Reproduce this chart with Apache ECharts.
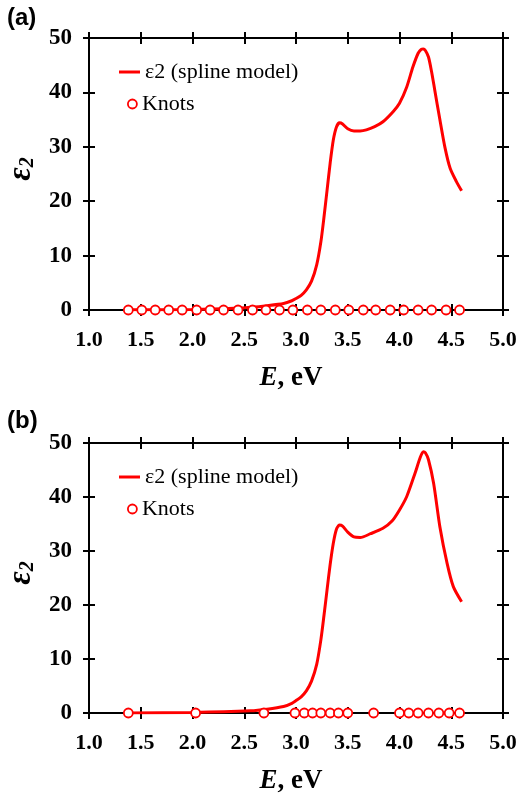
<!DOCTYPE html>
<html><head><meta charset="utf-8">
<script src="https://cdn.jsdelivr.net/npm/echarts@6/dist/echarts.min.js"></script>
<style>html,body{margin:0;padding:0;background:#fff}#c{width:518px;height:794px}</style>
</head><body><div id="c"></div>
<script>
// ---- data ----
const xTickLabels = ['1.0','1.5','2.0','2.5','3.0','3.5','4.0','4.5','5.0'];
const yTickLabels = ['0','10','20','30','40','50'];
const legendNames = ['ε2 (spline model)', 'Knots'];

const splineA_E = [1.38, 2.0, 2.4, 2.56, 2.72, 2.88, 2.96, 3.00, 3.05, 3.10, 3.15, 3.20, 3.24, 3.27, 3.30, 3.33, 3.36, 3.39, 3.42, 3.45, 3.50, 3.56, 3.62, 3.68, 3.76, 3.84, 3.94, 4.00, 4.07, 4.13, 4.18, 4.21, 4.23, 4.25, 4.28, 4.31, 4.34, 4.39, 4.44, 4.49, 4.55, 4.60];
const splineA_V = [0.05, 0.1, 0.3, 0.5, 0.8, 1.2, 1.7, 2.1, 2.7, 3.7, 5.3, 8.3, 12.5, 17.0, 22.0, 27.0, 31.2, 33.6, 34.4, 34.2, 33.3, 32.9, 32.9, 33.1, 33.7, 34.6, 36.5, 38.0, 41.0, 44.7, 47.2, 47.9, 48.0, 47.7, 46.5, 43.8, 40.5, 35.0, 29.8, 26.0, 23.6, 21.9];
const knotsA_E = [1.38, 1.51, 1.64, 1.77, 1.90, 2.04, 2.17, 2.30, 2.44, 2.58, 2.71, 2.84, 2.97, 3.11, 3.24, 3.38, 3.51, 3.65, 3.77, 3.91, 4.04, 4.18, 4.31, 4.45, 4.58];
const knotsA_V = [0, 0, 0, 0, 0, 0, 0, 0, 0, 0, 0, 0, 0, 0, 0, 0, 0, 0, 0, 0, 0, 0, 0, 0, 0];

const splineB_E = [1.38, 2.0, 2.56, 2.72, 2.88, 2.96, 3.00, 3.05, 3.10, 3.15, 3.20, 3.24, 3.27, 3.30, 3.33, 3.36, 3.39, 3.42, 3.45, 3.50, 3.56, 3.62, 3.72, 3.84, 3.93, 4.00, 4.07, 4.15, 4.20, 4.23, 4.25, 4.28, 4.33, 4.39, 4.46, 4.52, 4.60];
const splineB_V = [0.02, 0.1, 0.4, 0.7, 1.2, 1.8, 2.3, 3.0, 4.1, 5.9, 9.0, 13.5, 18.0, 22.8, 27.5, 31.4, 34.0, 34.8, 34.6, 33.5, 32.6, 32.5, 33.2, 34.2, 35.6, 37.6, 40.1, 44.4, 47.3, 48.4, 48.2, 46.9, 42.5, 34.5, 27.7, 23.4, 20.6];
const knotsB_E = [1.38, 2.03, 2.69, 2.99, 3.08, 3.16, 3.24, 3.33, 3.41, 3.50, 3.75, 4.00, 4.09, 4.18, 4.28, 4.38, 4.48, 4.58];
const knotsB_V = [0, 0, 0, 0, 0, 0, 0, 0, 0, 0, 0, 0, 0, 0, 0, 0, 0, 0];

// ---- helpers ----
const pairs = (xs, ys) => xs.map((x, i) => [x, ys[i]]);
const SERIF = "'Liberation Serif', 'Times New Roman', serif";
const RED = '#ff0000';
const xMin = parseFloat(xTickLabels[0]), xMax = parseFloat(xTickLabels[xTickLabels.length - 1]);
const xInt = parseFloat(xTickLabels[1]) - xMin;
const yMin = parseFloat(yTickLabels[0]), yMax = parseFloat(yTickLabels[yTickLabels.length - 1]);
const yInt = parseFloat(yTickLabels[1]) - yMin;

const grids = [
  {left: 89, top: 38, width: 414, height: 272},
  {left: 89, top: 443, width: 414, height: 270}
];

const xAxes = [], yAxes = [];
function tickAxis(kind, gridIndex, position, inside, main) {
  const isX = kind === 'x';
  return {
    type: 'value', gridIndex, position,
    min: isX ? xMin : yMin, max: isX ? xMax : yMax, interval: isX ? xInt : yInt,
    splitLine: {show: false},
    axisLine: {show: main, onZero: false, lineStyle: {color: '#000', width: 2}},
    axisTick: {show: true, inside, length: 6, lineStyle: {color: '#000', width: 2}},
    axisLabel: {show: false}
  };
}
const mainX = [], mainY = [];
grids.forEach((g, gi) => {
  const bx = tickAxis('x', gi, 'bottom', true, true);
  bx.axisLabel = {show: true, margin: 19, color: '#000', fontFamily: SERIF, fontWeight: 'bold', fontSize: 22,
    formatter: v => v.toFixed(1)};
  bx.name = '{i|E}{n|, eV}';
  bx.nameLocation = 'middle';
  bx.nameGap = 55;
  bx.nameTextStyle = {color: '#000', padding: [0, 10, 0, 0], rich: {
    i: {fontFamily: SERIF, fontStyle: 'italic', fontWeight: 'bold', fontSize: 27, color: '#000'},
    n: {fontFamily: SERIF, fontWeight: 'bold', fontSize: 27, color: '#000'}
  }};
  mainX.push(xAxes.length); xAxes.push(bx);
  xAxes.push(tickAxis('x', gi, 'bottom', false, false));
  xAxes.push(tickAxis('x', gi, 'top', true, true));
  xAxes.push(tickAxis('x', gi, 'top', false, false));
  const ly = tickAxis('y', gi, 'left', true, true);
  ly.axisLabel = {show: true, margin: 17, color: '#000', fontFamily: SERIF, fontWeight: 'bold', fontSize: 23};
  ly.name = '{e|ε}{s|2}';
  ly.nameLocation = 'middle';
  ly.nameGap = 38;
  ly.nameTextStyle = {color: '#000', padding: [0, 0, 0, 10], rich: {
    e: {fontFamily: SERIF, fontStyle: 'italic', fontWeight: 'bold', fontSize: 33, color: '#000'},
    s: {fontFamily: SERIF, fontStyle: 'italic', fontWeight: 'bold', fontSize: 20, color: '#000', padding: [12, 0, 0, 0]}
  }};
  mainY.push(yAxes.length); yAxes.push(ly);
  yAxes.push(tickAxis('y', gi, 'left', false, false));
  yAxes.push(tickAxis('y', gi, 'right', true, true));
  yAxes.push(tickAxis('y', gi, 'right', false, false));
});

const series = [];
[[splineA_E, splineA_V, knotsA_E, knotsA_V], [splineB_E, splineB_V, knotsB_E, knotsB_V]].forEach((d, gi) => {
  series.push({
    name: legendNames[0], type: 'line', xAxisIndex: mainX[gi], yAxisIndex: mainY[gi],
    data: pairs(d[0], d[1]), smooth: 0.25, symbol: 'none', showSymbol: false,
    lineStyle: {color: RED, width: 3}, itemStyle: {color: RED}, z: 3
  });
  series.push({
    name: legendNames[1], type: 'scatter', xAxisIndex: mainX[gi], yAxisIndex: mainY[gi],
    data: pairs(d[2], d[3]), symbol: 'circle', symbolSize: 9,
    itemStyle: {color: '#fff', borderColor: RED, borderWidth: 1.8, opacity: 1}, z: 4
  });
});

const legendText = {fontFamily: SERIF, fontSize: 22, color: '#000'};
const legends = [];
[[61, 93], [466, 498]].forEach(([t1, t2]) => {
  legends.push({data: [{name: legendNames[0], icon: 'rect'}], left: 119, top: t1, itemWidth: 21, itemHeight: 3,
    selectedMode: false, textStyle: legendText, padding: 0, itemStyle: {color: RED, borderWidth: 0}});
  legends.push({data: [{name: legendNames[1], icon: 'circle'}], left: 127, top: t2, itemWidth: 9, itemHeight: 9,
    selectedMode: false, textStyle: legendText, padding: 0, itemStyle: {color: '#fff', borderColor: RED, borderWidth: 1.8}});
});

const titleStyle = {fontFamily: "'Liberation Sans', Arial, sans-serif", fontWeight: 'bold', fontSize: 24, color: '#000'};
const option = {
  backgroundColor: '#fff',
  animation: false,
  title: [
    {text: '(a)', left: 7, top: 6, padding: 0, textStyle: titleStyle},
    {text: '(b)', left: 7, top: 409, padding: 0, textStyle: titleStyle}
  ],
  grid: grids.map(g => Object.assign({containLabel: false, outerBoundsMode: 'none'}, g)),
  xAxis: xAxes,
  yAxis: yAxes,
  legend: legends,
  series
};
const chart = echarts.init(document.getElementById('c'), null, {renderer: 'canvas'});
chart.setOption(option);
</script>
</body></html>
